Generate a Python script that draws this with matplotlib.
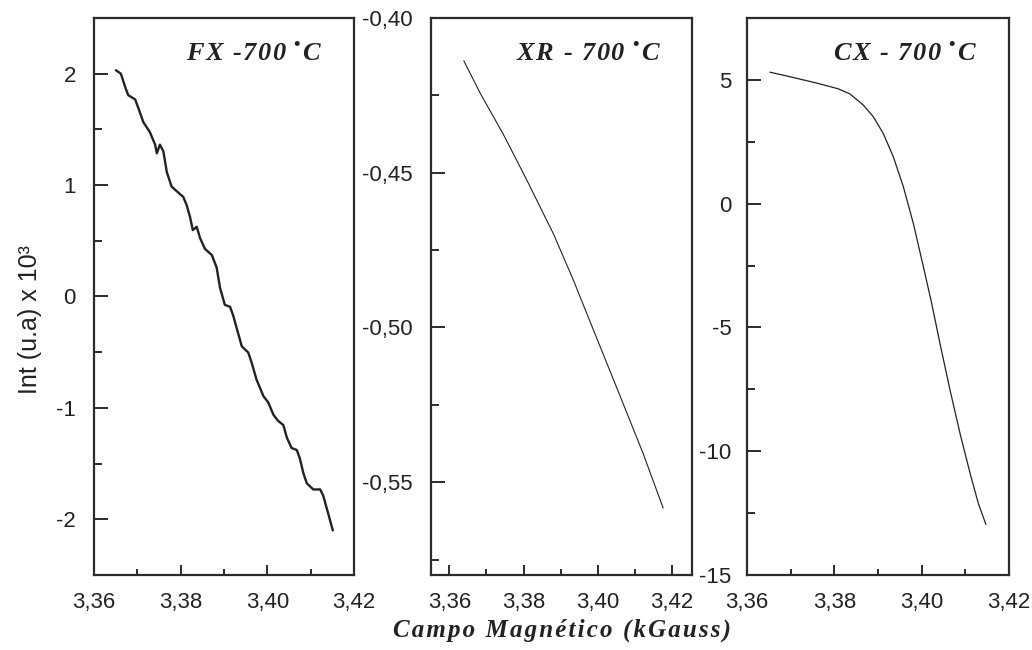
import matplotlib
matplotlib.use("Agg")
import matplotlib.pyplot as plt
from matplotlib.ticker import MultipleLocator, FuncFormatter

# FX - 700 C (noisy, step-like decay)
fx_x = [3.3651, 3.3662, 3.3672, 3.3679, 3.3695, 3.3702, 3.3714, 3.3729, 3.3741, 3.3745,
        3.3752, 3.3760, 3.3768, 3.3779, 3.3795, 3.3806, 3.3814, 3.3822, 3.3828, 3.3837,
        3.3845, 3.3856, 3.3872, 3.3883, 3.3891, 3.3902, 3.3914, 3.3921, 3.3933, 3.3941,
        3.3956, 3.3964, 3.3975, 3.3991, 3.4002, 3.4014, 3.4025, 3.4037, 3.4045, 3.4056,
        3.4068, 3.4075, 3.4083, 3.4091, 3.4106, 3.4122, 3.4129, 3.4137, 3.4151]
fx_y = [2.030, 2.000, 1.880, 1.807, 1.769, 1.695, 1.564, 1.475, 1.363, 1.285,
        1.363, 1.304, 1.117, 0.987, 0.931, 0.894, 0.819, 0.707, 0.596, 0.626,
        0.522, 0.428, 0.372, 0.260, 0.075, -0.075, -0.093, -0.168, -0.335, -0.447,
        -0.503, -0.596, -0.745, -0.894, -0.950, -1.061, -1.117, -1.154, -1.266, -1.360,
        -1.378, -1.453, -1.583, -1.676, -1.732, -1.732, -1.788, -1.899, -2.097]

# XR - 700 C
xr_x = [3.3639, 3.3683, 3.3746, 3.3809, 3.3881, 3.3934, 3.3979, 3.4006, 3.4060, 3.4123, 3.4177]
xr_y = [-0.4139, -0.4243, -0.4377, -0.4524, -0.4698, -0.4845, -0.4979, -0.5059, -0.5219, -0.5407, -0.5583]

# CX - 700 C
cx_x = [3.3653, 3.3698, 3.3760, 3.3809, 3.3836, 3.3866, 3.3889, 3.3912, 3.3935, 3.3958,
        3.3981, 3.4004, 3.4023, 3.4042, 3.4065, 3.4088, 3.4111, 3.4130, 3.4147]
cx_y = [5.31, 5.13, 4.87, 4.64, 4.43, 3.99, 3.52, 2.84, 1.90, 0.69,
        -0.80, -2.55, -4.03, -5.65, -7.53, -9.29, -10.90, -12.12, -12.95]

titles = ["FX -700 ", "XR - 700 ", "CX - 700 "]
ylabel = "Int (u.a) x 10\u00b3"
xlabel = "Campo Magnético (kGauss)"

plt.rcParams['font.family'] = ['Liberation Sans', 'DejaVu Sans']
plt.rcParams['mathtext.fontset'] = 'custom'
plt.rcParams['mathtext.rm'] = 'Liberation Sans'
plt.rcParams['mathtext.it'] = 'Liberation Sans:italic'
plt.rcParams['mathtext.bf'] = 'Liberation Sans:bold'

edge = '#2b2b2b'


def comma(fmt):
    return FuncFormatter(lambda v, p: (fmt % v).replace('.', ','))


def tracked(s, em=0.07):
    # letter spacing via small mathtext spaces between the characters
    gap = r'$\hspace{%g}$' % em
    return gap.join(s)


def style_axis(ax, ymajor, yminor, yfmt, ypad):
    for s in ax.spines.values():
        s.set_linewidth(1.6)
        s.set_color(edge)
    ax.xaxis.set_major_locator(MultipleLocator(0.02))
    ax.xaxis.set_minor_locator(MultipleLocator(0.01))
    ax.yaxis.set_major_locator(MultipleLocator(ymajor))
    ax.yaxis.set_minor_locator(MultipleLocator(yminor))
    ax.xaxis.set_major_formatter(comma('%.2f'))
    ax.yaxis.set_major_formatter(yfmt)
    ax.tick_params(which='both', direction='in', top=False, right=False, color=edge,
                   width=1.4, labelsize=16, labelcolor='#222222')
    ax.tick_params(axis='y', which='major', length=10, pad=ypad)
    ax.tick_params(axis='y', which='minor', length=6)
    ax.tick_params(axis='x', which='major', length=7, pad=12)
    ax.tick_params(axis='x', which='minor', length=4.5)


fig = plt.figure(figsize=(10.32, 6.5), dpi=100)
ax1 = fig.add_axes([0.0911, 0.1154, 0.2519, 0.8569])
ax2 = fig.add_axes([0.4176, 0.1154, 0.2529, 0.8569])
ax3 = fig.add_axes([0.7238, 0.1154, 0.2539, 0.8569])

ax1.plot(fx_x, fx_y, color='#222222', lw=1.7)
ax1.set_xlim(3.36, 3.42)
ax1.set_ylim(-2.5, 2.5)
style_axis(ax1, 1, 0.5, FuncFormatter(lambda v, p: '%d' % round(v)), 13)

ax2.plot(xr_x, xr_y, color='#222222', lw=0.8)
ax2.set_xlim(3.355, 3.4255)
ax2.set_ylim(-0.58, -0.40)
style_axis(ax2, 0.05, 0.025, comma('%.2f'), 13)

ax3.plot(cx_x, cx_y, color='#222222', lw=0.9)
ax3.set_xlim(3.36, 3.42)
ax3.set_ylim(-15, 7.5)
style_axis(ax3, 5, 2.5, FuncFormatter(lambda v, p: '%d' % round(v)), 11)

for ax, t in zip([ax1, ax2, ax3], titles):
    label = tracked(t) + '$^{\u2022}$' + r'$\hspace{0.07}$C'
    ax.text(0.88, 0.935, label, transform=ax.transAxes, ha='right', va='center',
            fontsize=19, fontweight='bold', fontstyle='italic',
            family='Liberation Serif', color='#222222')

fig.text(30 / 1032, 1 - 320 / 650, ylabel, rotation=90, ha='center', va='center',
         fontsize=18, color='#222222')
fig.text(562 / 1032, 1 - 630 / 650, '\u200a'.join(xlabel), ha='center', va='center',
         fontsize=18, fontweight='bold', fontstyle='italic',
         family=['Liberation Serif', 'DejaVu Serif'], color='#222222')

fig.savefig('out.png', dpi=100)
